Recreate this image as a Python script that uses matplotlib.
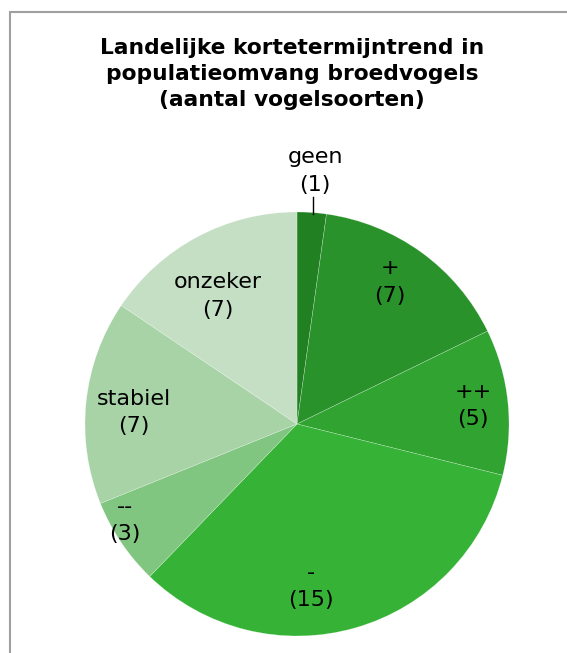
import matplotlib
matplotlib.use("Agg")
import matplotlib.pyplot as plt
import numpy as np
from matplotlib.patches import Rectangle

categories = ["geen", "+", "++", "-", "--", "stabiel", "onzeker"]
values = [1, 7, 5, 15, 3, 7, 7]
colors = ["#218021", "#2a922a", "#30a330", "#36b336", "#80c580", "#a7d3a7", "#c4dfc4"]
title = "Landelijke kortetermijntrend in\npopulatieomvang broedvogels\n(aantal vogelsoorten)"

# label placement (radius fraction, angle in degrees) -- layout only
label_pos = [None, (0.80, 56.8), (0.835, 6.0), (0.77, -85.0), (0.93, -150.6), (0.77, 176.0), (0.71, 121.7)]

W, H = 567, 653
fig = plt.figure(figsize=(W / 100, H / 100), dpi=100)
plt.rcParams['font.family'] = ['DejaVu Sans']

# frame (cropped chart border)
fig.patches.append(Rectangle((10 / W, -0.1), 1.2, 1 - 12 / H + 0.1, transform=fig.transFigure,
                             fill=False, edgecolor="#a0a0a0", linewidth=1.5))

cx, cy, R = 297, 424, 212
ax = fig.add_axes([(cx - R) / W, (H - cy - R) / H, 2 * R / W, 2 * R / H])
wedges, _ = ax.pie(values, colors=colors, startangle=90, counterclock=False,
                   wedgeprops=dict(edgecolor=(1, 1, 1, 0.5), linewidth=0.3))
ax.set_xlim(-1, 1)
ax.set_ylim(-1, 1)
ax.set_aspect("equal")
ax.axis("off")

fs = 16
for cat, val, pos in zip(categories, values, label_pos):
    if pos is None:
        # geen label above the pie with leader line
        ax.text(0.085, 1.193, f"{cat}\n({val})", ha="center", va="center", fontsize=fs,
                linespacing=1.45, clip_on=False)
        ax.plot([0.075, 0.075], [0.99, 1.07], color="black", linewidth=1, clip_on=False)
        continue
    r, a = pos
    x = r * np.cos(np.radians(a))
    y = r * np.sin(np.radians(a))
    ax.text(x, y, f"{cat}\n({val})", ha="center", va="center", fontsize=fs,
            linespacing=1.45, clip_on=False)

fig.text(292 / W, 1 - 74 / H, title, ha="center", va="center", fontsize=15.7,
         fontweight="bold", linespacing=1.38)

fig.savefig("out.png", dpi=100)
